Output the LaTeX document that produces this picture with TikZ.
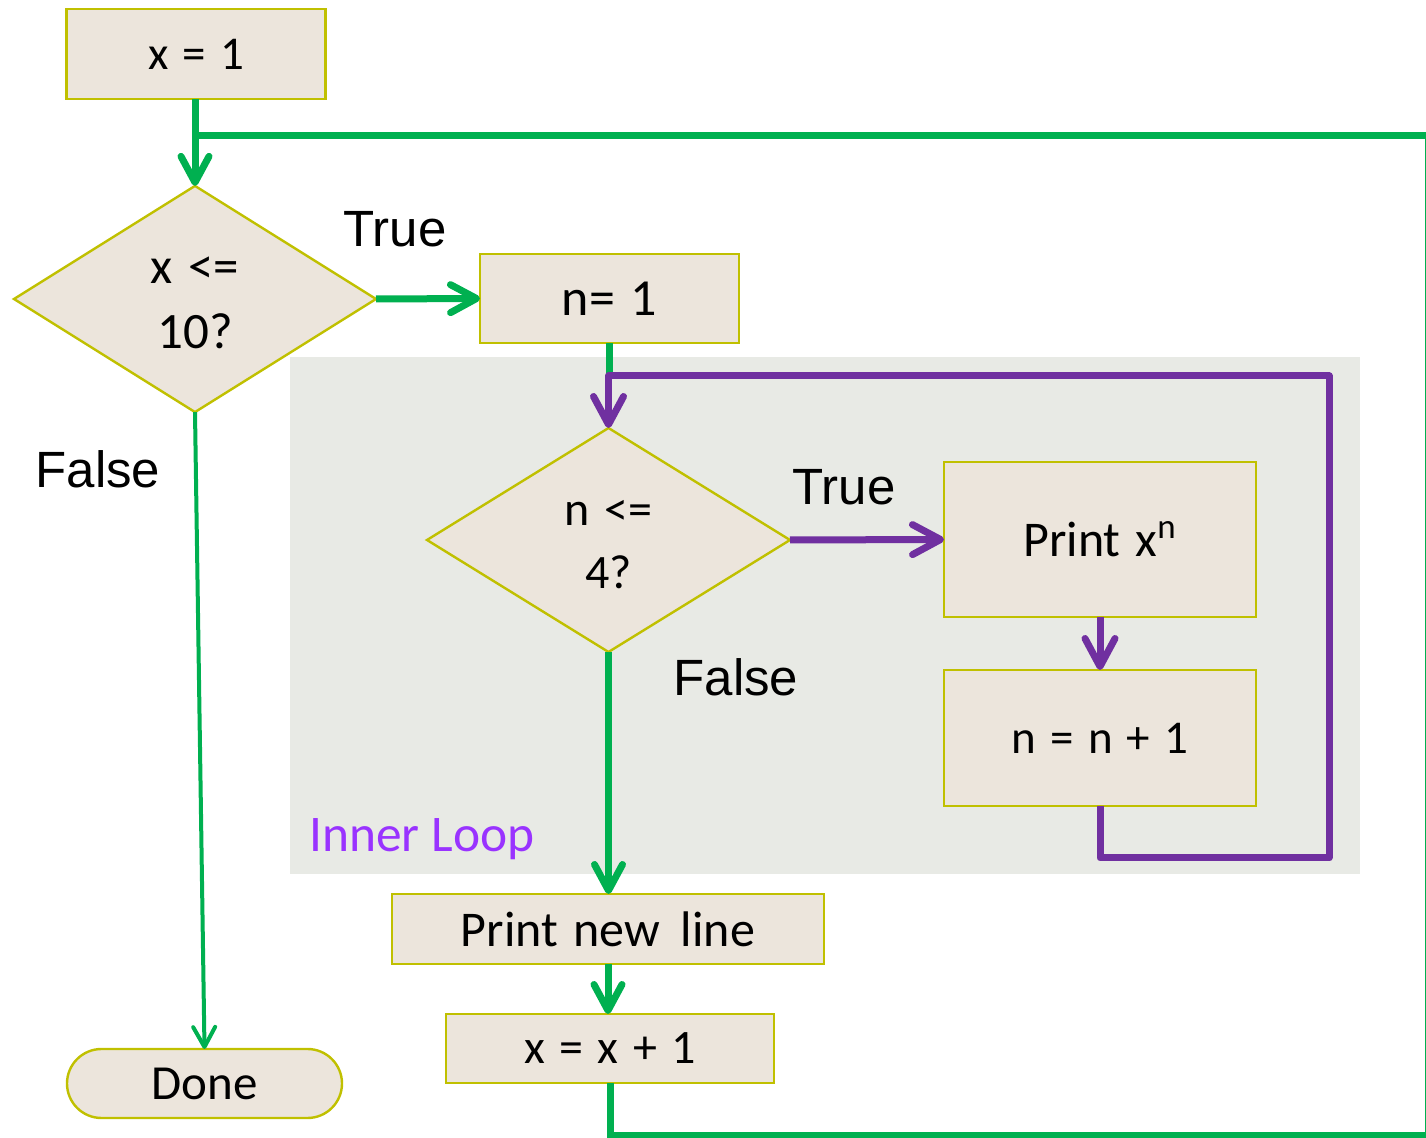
\documentclass[tikz,border=0pt]{standalone}
\usepackage{fontspec}
\setmainfont{Carlito}
\newfontfamily\arialfont{Liberation Sans}
\usetikzlibrary{shapes.geometric,arrows.meta,calc}
\definecolor{gr}{RGB}{0,176,80}
\definecolor{pu}{RGB}{112,48,160}
\definecolor{boxfill}{RGB}{236,229,220}
\definecolor{boxline}{RGB}{192,192,0}
\definecolor{loopbg}{RGB}{232,234,229}
\definecolor{looptext}{RGB}{153,51,255}
\begin{document}
\begin{tikzpicture}[x=0.5pt,y=-0.5pt,
  procbox/.style={draw=boxline, fill=boxfill, line width=1.2pt, inner sep=0pt, outer sep=0pt, align=center,
    execute at begin node={\spaceskip=0.3em\relax}},
  decision/.style={procbox, diamond},
  lbl/.style={font=\arialfont\fontsize{25.5}{30}\selectfont, anchor=base, inner sep=0pt},
  gline/.style={draw=gr, line width=3.5pt},
  pline/.style={draw=pu, line width=3.5pt, line join=round},
  garrow/.style={gline, -{Straight Barb[round,length=13pt,width=14pt]}},
  parrow/.style={pline, -{Straight Barb[round,length=14pt,width=15pt]}},
  gthin/.style={draw=gr, line width=2pt, -{Straight Barb[round,length=10pt,width=11pt]}}
]
\useasboundingbox (0,0) rectangle (1426,1138);

% inner loop background
\node[fill=loopbg, minimum width=535pt, minimum height=258.5pt, inner sep=0pt, outer sep=0pt] (bg) at (825,615.5) {};
\node[text=looptext, font=\fontsize{25.7}{30}\selectfont, anchor=base west, inner sep=0pt] (il) at (309,852) {Inner Loop};

% nodes
\node[procbox, minimum width=129.5pt, minimum height=45pt, font=\fontsize{23.5}{28}\selectfont] (x1) at (196,54) {x = 1};
\node[decision, minimum width=181pt, minimum height=112pt, font=\fontsize{25.5}{32.5}\selectfont] (d1) at (195,299) {\rule{0pt}{26.75pt}x <=\\\strut 10?};
\node[procbox, minimum width=129.5pt, minimum height=44.5pt, font=\fontsize{26}{31}\selectfont] (n1) at (609.5,298.5) {n= 1};
\node[decision, minimum width=181.5pt, minimum height=112pt, font=\fontsize{24}{31.5}\selectfont] (d2) at (608.5,540) {\rule{0pt}{26pt}n <=\\\strut 4?};
\node[procbox, minimum width=156pt, minimum height=77.5pt, font=\fontsize{25}{30}\selectfont] (px) at (1100,539.5) {Print x\textsuperscript{n}};
\node[procbox, minimum width=156pt, minimum height=68pt, font=\fontsize{23.5}{30}\selectfont] (nn) at (1100,738) {n = n + 1};
\node[procbox, minimum width=216pt, minimum height=35pt, font=\fontsize{25}{30}\selectfont] (pnl) at (608,929) {Print new\hspace{0.42em}line};
\node[procbox, minimum width=164pt, minimum height=34.5pt, font=\fontsize{24}{30}\selectfont] (xx) at (610,1048.5) {x = x + 1};
\node[procbox, rounded corners=17.25pt, minimum width=137.5pt, minimum height=34.5pt, font=\fontsize{24.5}{30}\selectfont] (done) at (204.5,1083.5) {Done};

% labels
\node[lbl] (t1) at (395,247) {True};
\node[lbl] (f1) at (98,488) {False};
\node[lbl] (t2) at (844,505) {True};
\node[lbl] (f2) at (736,696) {False};

% coordinates
\coordinate (j1) at (195,136);
\coordinate (cr1) at (1428.5,136);
\coordinate (cr2) at (1428.5,1135);
\coordinate (p1) at (608.5,376);
\coordinate (p2) at (1329,376);
\coordinate (p3) at (1329,858);

% outer loop (green)
\draw[garrow] (d1.north |- x1.south) -- (d1.north);
\draw[gline] (xx.south) |- (cr2) -- (cr1) -- (j1);
\draw[garrow] (d1.east) -- (n1.west);
\draw[gline] (n1.south) -- (n1.south |- p1);
\draw[garrow] (d2.south) -- (d2.south |- pnl.north);
\draw[garrow] (pnl.south) -- (pnl.south |- xx.north);
\draw[gthin] (d1.south) -- (done.north);

% inner loop (purple)
\draw[parrow] (nn.south) |- (p3) -- (p2) -- (p1) -- (d2.north);
\draw[parrow] (d2.east) -- (px.west);
\draw[parrow] (px.south) -- (nn.north);
\end{tikzpicture}
\end{document}
